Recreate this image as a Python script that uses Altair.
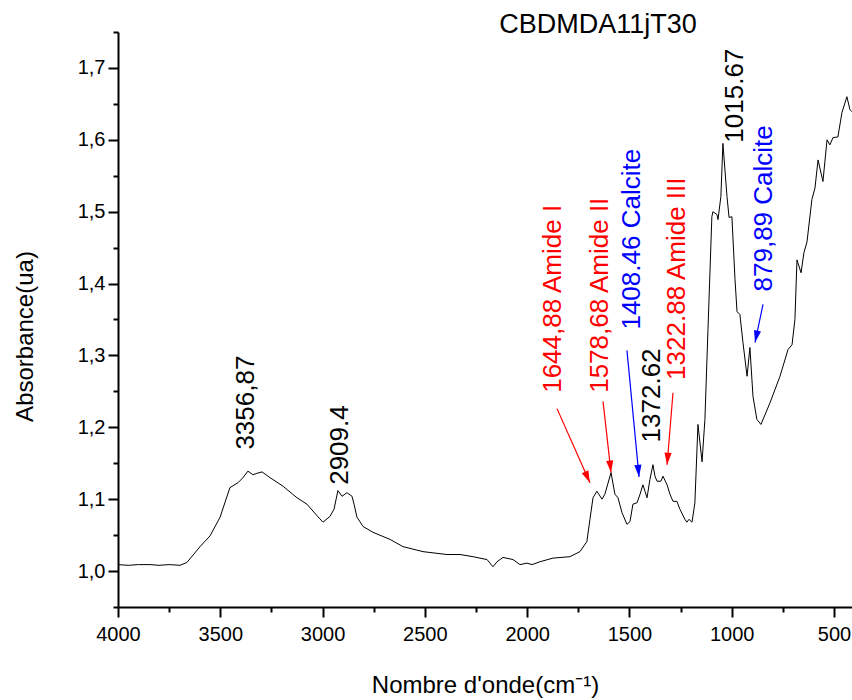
import math
import altair as alt
import pandas as pd

# ---- spectrum ----
wavenumber = [4000, 3950, 3900, 3844, 3800, 3750, 3697, 3663, 3599, 3550,
              3501, 3453, 3413, 3389, 3365, 3340, 3321, 3296, 3257, 3193,
              3125, 3076, 3027, 2998, 2964, 2944, 2925, 2905, 2881, 2856,
              2846, 2832, 2802, 2754, 2670, 2607, 2509, 2392, 2328, 2265,
              2196, 2167, 2147, 2118, 2069, 2035, 2001, 1976, 1937, 1874,
              1791, 1742, 1708, 1693, 1678, 1659, 1634, 1620, 1590, 1571,
              1556, 1536, 1512, 1497, 1483, 1463, 1448, 1434, 1424, 1414,
              1400, 1385, 1375, 1365, 1346, 1336, 1316, 1302, 1287, 1268,
              1253, 1229, 1219, 1209, 1194, 1180, 1165, 1145, 1131, 1116,
              1097, 1092, 1072, 1067, 1053, 1043, 1023, 1013, 999, 984,
              974, 960, 945, 925, 911, 896, 877, 857, 813, 764,
              725, 705, 691, 681, 661, 647, 632, 608, 593, 578,
              554, 534, 520, 505, 481, 461, 437, 422, 412]
absorbance = [1.009, 1.008, 1.009, 1.009, 1.008, 1.009, 1.008, 1.012, 1.034, 1.049,
              1.075, 1.116, 1.123, 1.130, 1.139, 1.134, 1.136, 1.138, 1.130, 1.118,
              1.102, 1.093, 1.077, 1.068, 1.076, 1.086, 1.112, 1.104, 1.109, 1.104,
              1.093, 1.075, 1.062, 1.054, 1.044, 1.034, 1.027, 1.023, 1.023, 1.020,
              1.016, 1.006, 1.013, 1.019, 1.016, 1.009, 1.011, 1.009, 1.013, 1.018,
              1.020, 1.027, 1.041, 1.072, 1.102, 1.111, 1.100, 1.107, 1.137, 1.107,
              1.102, 1.081, 1.065, 1.069, 1.093, 1.095, 1.107, 1.120, 1.111, 1.102,
              1.127, 1.148, 1.132, 1.125, 1.125, 1.132, 1.120, 1.107, 1.097, 1.097,
              1.086, 1.072, 1.068, 1.072, 1.068, 1.095, 1.204, 1.152, 1.211, 1.336,
              1.493, 1.500, 1.496, 1.489, 1.521, 1.595, 1.521, 1.492, 1.493, 1.406,
              1.361, 1.357, 1.318, 1.271, 1.311, 1.243, 1.211, 1.204, 1.234, 1.271,
              1.308, 1.315, 1.350, 1.433, 1.415, 1.443, 1.458, 1.517, 1.533, 1.572,
              1.542, 1.600, 1.593, 1.603, 1.604, 1.638, 1.660, 1.642, 1.639]

# ---- peak annotations ----
ann_text = ["3356,87", "2909.4", "1644,88 Amide I", "1578,68 Amide II",
            "1408.46 Calcite", "1372.62", "1322.88  Amide III", "1015.67",
            "879,89  Calcite"]
ann_x = [3374, 2915, 1874, 1644, 1488, 1390, 1268, 984, 842]
ann_y = [1.169, 1.120, 1.248, 1.248, 1.336, 1.179, 1.266, 1.596, 1.389]
ann_color = ["#000000", "#000000", "#FF0000", "#FF0000", "#0000FF",
             "#000000", "#FF0000", "#000000", "#0000FF"]

# ---- arrows (start -> tip) ----
arrow_x1 = [1854, 1629, 1512, 1287, 847]
arrow_y1 = [1.226, 1.236, 1.307, 1.248, 1.371]
arrow_x2 = [1693, 1590, 1453, 1316, 886]
arrow_y2 = [1.123, 1.137, 1.131, 1.148, 1.318]
arrow_color = ["#FF0000", "#FF0000", "#0000FF", "#FF0000", "#0000FF"]

# ---- sample label ----
label_text = ["CBDMDA11jT30"]
label_x = [1654]
label_y = [1.749]

# ---- axes ----
x_ticks = [4000, 3750, 3500, 3250, 3000, 2750, 2500, 2250, 2000, 1750,
           1500, 1250, 1000, 750, 500]
y_ticks = [0.95, 1.0, 1.05, 1.1, 1.15, 1.2, 1.25, 1.3, 1.35, 1.4, 1.45,
           1.5, 1.55, 1.6, 1.65, 1.7, 1.75]
X_DOMAIN = [412, 4000]
Y_DOMAIN = [0.95, 1.75]
W, H = 734, 575
FONT = "Liberation Sans"

spec_df = pd.DataFrame({"w": wavenumber, "a": absorbance})
ann_df = pd.DataFrame({"w": ann_x, "a": ann_y, "t": ann_text, "c": ann_color})
lab_df = pd.DataFrame({"w": label_x, "a": label_y, "t": label_text})

sx = W / (X_DOMAIN[1] - X_DOMAIN[0])
sy = H / (Y_DOMAIN[1] - Y_DOMAIN[0])
angles = []
for x1, y1, x2, y2 in zip(arrow_x1, arrow_y1, arrow_x2, arrow_y2):
    dx = -(x2 - x1) * sx
    dy = -(y2 - y1) * sy
    angles.append((math.degrees(math.atan2(dx, -dy)) + 360) % 360)
arr_df = pd.DataFrame({"w": arrow_x1, "a": arrow_y1, "x2": arrow_x2,
                       "y2": arrow_y2, "c": arrow_color, "ang": angles})

xscale = alt.Scale(domain=X_DOMAIN, reverse=True, nice=False, zero=False)
yscale = alt.Scale(domain=Y_DOMAIN, nice=False, zero=False)

X_MAJOR = "datum.value % 500 === 0"
Y_MAJOR = "abs(datum.value*10 - round(datum.value*10)) < 0.001"

x_axis = alt.Axis(
    values=x_ticks, format="d",
    labelExpr=X_MAJOR + " ? datum.label : ''",
    tickSize={"condition": {"test": X_MAJOR, "value": 10}, "value": 5},
    tickWidth=2, tickColor="black", domainWidth=2, domainColor="black",
    labelFontSize=20, labelColor="black", labelPadding=7, labelFont=FONT,
    labelOverlap=False, labelFlush=False, grid=False,
    title="Nombre d'onde(cm⁻¹)", titleFontSize=24, titleFontWeight="normal",
    titleFont=FONT, titleColor="black", titleX=W / 2, titleY=85,
    titleBaseline="alphabetic", titleAlign="center",
)
y_axis = alt.Axis(
    values=y_ticks,
    labelExpr=Y_MAJOR + " ? replace(format(datum.value, '.1f'), '.', ',') : ''",
    tickSize={"condition": {"test": Y_MAJOR, "value": 10}, "value": 5},
    tickWidth=2, tickColor="black", domainWidth=2, domainColor="black",
    labelFontSize=20, labelColor="black", labelPadding=3, labelFont=FONT,
    labelOverlap=False, labelFlush=False, grid=False,
    title="Absorbance(ua)", titleFontSize=24, titleFontWeight="normal",
    titleFont=FONT, titleColor="black", titleAngle=270, titleX=-86, titleY=304,
    titleBaseline="alphabetic", titleAlign="center",
)

X = lambda f: alt.X(f, scale=xscale, axis=x_axis)
Y = lambda f: alt.Y(f, scale=yscale, axis=y_axis)

line = alt.Chart(spec_df).mark_line(color="black", strokeWidth=1, clip=True).encode(
    x=X("w:Q"), y=Y("a:Q"),
)

shafts = alt.Chart(arr_df).mark_rule(strokeWidth=1.2).encode(
    x=X("w:Q"), y=Y("a:Q"),
    x2="x2:Q", y2="y2:Q",
    color=alt.Color("c:N", scale=None),
)

heads = alt.Chart(arr_df).mark_point(
    shape="M0,0L-0.6,2L0.6,2Z", filled=True, size=144, opacity=1, strokeWidth=0
).encode(
    x=X("x2:Q"), y=Y("y2:Q"),
    angle=alt.Angle("ang:Q", scale=None),
    color=alt.Color("c:N", scale=None),
)

texts = alt.Chart(ann_df).mark_text(
    angle=270, align="left", baseline="middle", fontSize=26, font=FONT
).encode(
    x=X("w:Q"), y=Y("a:Q"),
    text="t:N",
    color=alt.Color("c:N", scale=None),
)

label = alt.Chart(lab_df).mark_text(
    align="center", baseline="alphabetic", fontSize=27, font=FONT, color="black"
).encode(
    x=X("w:Q"), y=Y("a:Q"),
    text="t:N",
)

chart = alt.layer(line, shafts, heads, texts, label).properties(
    width=W, height=H,
    padding={"left": 118, "top": 32, "right": 0, "bottom": 93},
    autosize=alt.AutoSizeParams(type="none"),
    background="white",
).configure(font=FONT).configure_view(stroke=None)

chart.save("out.html", embed_options={"renderer": "svg", "actions": False})
